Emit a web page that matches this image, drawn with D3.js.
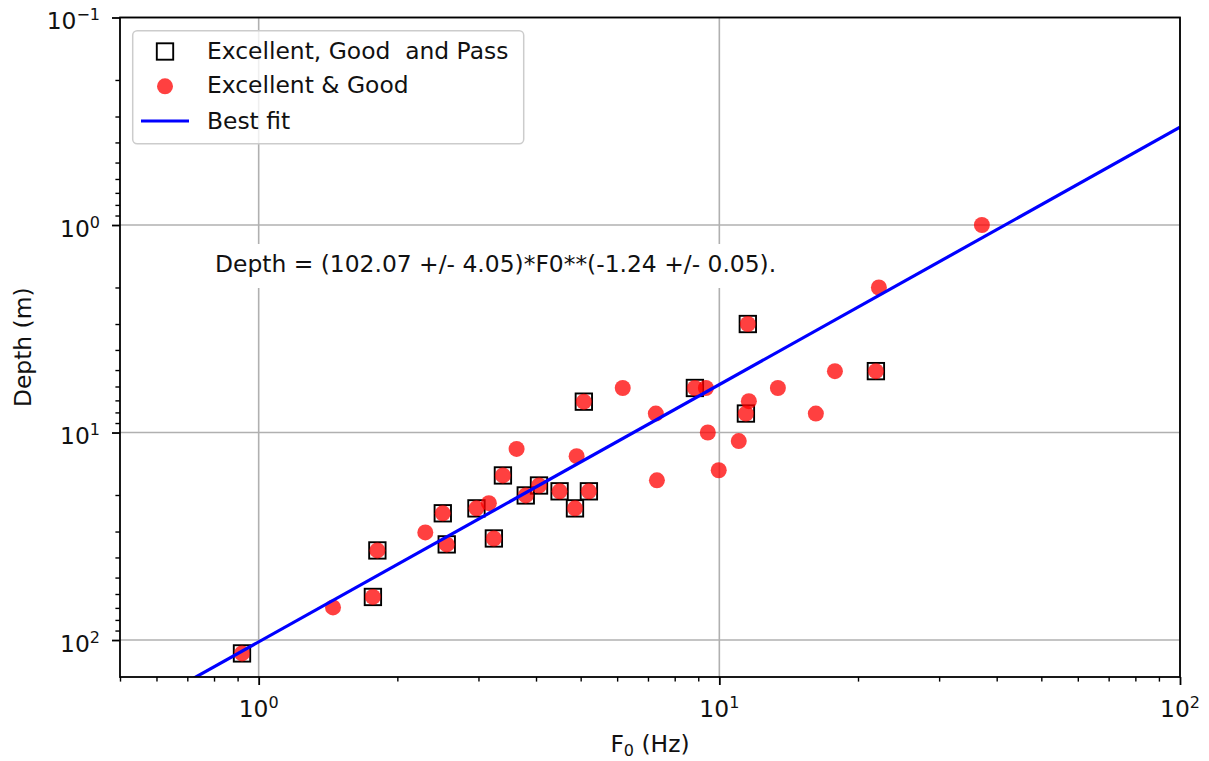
<!DOCTYPE html>
<html>
<head>
<meta charset="utf-8">
<script src="https://cdn.jsdelivr.net/npm/d3@7"></script>
<style>
  html, body { margin: 0; padding: 0; background: #fff; }
  svg { display: block; font-family: "DejaVu Sans", sans-serif; }
</style>
</head>
<body>
<svg id="chart" width="1209" height="761"></svg>
<script>
// Sites rated Excellent, Good and Pass (open squares)
const passF0    = [0.92, 1.77, 1.81, 2.51, 2.56, 2.97, 3.24, 3.39, 3.80, 4.06, 4.50, 4.86, 5.21, 5.08, 8.85, 11.42, 11.53, 21.87];
const passDepth = [116, 62, 37, 24.5, 34.6, 23.2, 32.4, 16.1, 20.1, 18.0, 19.2, 23.2, 19.2, 7.1, 6.1, 8.1, 3.0, 5.06];

// Sites rated Excellent & Good (red dots)
const goodF0    = [0.92, 1.77, 1.81, 2.51, 2.56, 2.97, 3.24, 3.39, 3.80, 4.06, 4.50, 4.86, 5.21, 5.08, 8.85, 11.42, 11.53, 21.87,
                   1.45, 2.30, 3.16, 3.63, 4.90, 6.17, 7.28, 7.32, 9.35, 9.44, 9.97, 11.02, 11.59, 13.40, 16.20, 17.82, 22.20, 37.15];
const goodDepth = [116, 62, 37, 24.5, 34.6, 23.2, 32.4, 16.1, 20.1, 18.0, 19.2, 23.2, 19.2, 7.1, 6.1, 8.1, 3.0, 5.06,
                   69.6, 30.3, 21.9, 12.0, 13.0, 6.1, 8.1, 17.0, 6.1, 10.0, 15.2, 11.0, 7.06, 6.1, 8.1, 5.06, 2.0, 1.0];

// Power-law fit: Depth = a * F0^b
const fitA = 102.07, fitAErr = 4.05;
const fitB = -1.24,  fitBErr = 0.05;

// Axis extents and tick decades
const xDomain = [0.5, 100];
const yDomain = [0.1, 150.7];
const xTickExps = [0, 1, 2];
const yTickExps = [-1, 0, 1, 2];

const legendLabels = ["Excellent, Good  and Pass", "Excellent & Good", "Best fit"];
const xLabel = ["F", "0", " (Hz)"];
const yLabel = "Depth (m)";

// ---------------------------------------------------------------
const FS = 23.4;        // base font size
const SUP = 16;         // exponent font size
const plot = { left: 120, right: 1180, top: 17.5, bottom: 677 };

const svg = d3.select("#chart");

const x = d3.scaleLog().domain(xDomain).range([plot.left, plot.right]);
const y = d3.scaleLog().domain(yDomain).range([plot.top, plot.bottom]);   // depth grows downward

const xMajor = xTickExps.map(e => Math.pow(10, e));
const yMajor = yTickExps.map(e => Math.pow(10, e));
const isPow10 = v => Math.abs(Math.log10(v) - Math.round(Math.log10(v))) < 1e-9;
const xMinor = x.ticks().filter(v => !isPow10(v));
const yMinor = y.ticks().filter(v => !isPow10(v));

// grid on major ticks
const grid = svg.append("g").attr("stroke", "#b0b0b0").attr("stroke-width", 1.6);
xMajor.forEach(v => grid.append("line")
  .attr("x1", x(v)).attr("x2", x(v)).attr("y1", plot.top).attr("y2", plot.bottom));
yMajor.forEach(v => grid.append("line")
  .attr("x1", plot.left).attr("x2", plot.right).attr("y1", y(v)).attr("y2", y(v)));

// clip region for the data layers
svg.append("clipPath").attr("id", "plotClip").append("rect")
  .attr("x", plot.left).attr("y", plot.top)
  .attr("width", plot.right - plot.left).attr("height", plot.bottom - plot.top);

const dataLayer = svg.append("g").attr("clip-path", "url(#plotClip)");

// open squares
const SQ = 16.4;
dataLayer.append("g").selectAll("rect")
  .data(d3.range(passF0.length))
  .join("rect")
  .attr("x", i => x(passF0[i]) - SQ / 2)
  .attr("y", i => y(passDepth[i]) - SQ / 2)
  .attr("width", SQ).attr("height", SQ)
  .attr("fill", "none").attr("stroke", "#000").attr("stroke-width", 1.9);

// red dots
dataLayer.append("g").selectAll("circle")
  .data(d3.range(goodF0.length))
  .join("circle")
  .attr("cx", i => x(goodF0[i]))
  .attr("cy", i => y(goodDepth[i]))
  .attr("r", 8)
  .attr("fill", "red").attr("fill-opacity", 0.75);

// best-fit line across the frequency range
const fitLine = d3.line().x(d => x(d)).y(d => y(fitA * Math.pow(d, fitB)));
dataLayer.append("path")
  .datum(xDomain)
  .attr("d", fitLine)
  .attr("fill", "none").attr("stroke", "#0000ff").attr("stroke-width", 3.2);

// fit equation with white backing box
const eqG = svg.append("g");
const eqText = eqG.append("text")
  .attr("x", 215).attr("y", 272)
  .attr("font-size", FS).attr("fill", "#111")
  .text(`Depth = (${fitA.toFixed(2)} +/- ${fitAErr.toFixed(2)})*F0**(${fitB.toFixed(2)} +/- ${fitBErr.toFixed(2)}).`);
const eb = eqText.node().getBBox();
eqG.insert("rect", "text")
  .attr("x", eb.x - 10).attr("y", 244)
  .attr("width", eb.width + 20).attr("height", 44)
  .attr("fill", "#fff");

// axes frame
svg.append("rect")
  .attr("x", plot.left).attr("y", plot.top)
  .attr("width", plot.right - plot.left).attr("height", plot.bottom - plot.top)
  .attr("fill", "none").attr("stroke", "#000").attr("stroke-width", 1.8);

function styleAxis(g, w) {
  g.select(".domain").remove();
  g.selectAll(".tick line").attr("stroke", "#000").attr("stroke-width", w);
  g.selectAll(".tick text").remove();
}

// bottom axis ticks
svg.append("g").attr("transform", `translate(0,${plot.bottom})`)
  .call(d3.axisBottom(x).tickValues(xMajor).tickSize(8).tickFormat(""))
  .call(g => styleAxis(g, 1.8));
svg.append("g").attr("transform", `translate(0,${plot.bottom})`)
  .call(d3.axisBottom(x).tickValues(xMinor).tickSize(4.6).tickFormat(""))
  .call(g => styleAxis(g, 1.4));

// left axis ticks
svg.append("g").attr("transform", `translate(${plot.left},0)`)
  .call(d3.axisLeft(y).tickValues(yMajor).tickSize(8).tickFormat(""))
  .call(g => styleAxis(g, 1.8));
svg.append("g").attr("transform", `translate(${plot.left},0)`)
  .call(d3.axisLeft(y).tickValues(yMinor).tickSize(4.6).tickFormat(""))
  .call(g => styleAxis(g, 1.4));

// power-of-ten tick labels
function powLabel(sel, exp) {
  sel.append("tspan").text("10");
  sel.append("tspan").attr("dy", -9).attr("font-size", SUP)
    .text(exp < 0 ? "\u2212" + (-exp) : String(exp));
}
xTickExps.forEach(e => {
  const t = svg.append("text")
    .attr("x", x(Math.pow(10, e))).attr("y", 717)
    .attr("text-anchor", "middle").attr("font-size", FS).attr("fill", "#111");
  powLabel(t, e);
});
yTickExps.forEach(e => {
  const t = svg.append("text")
    .attr("x", 100).attr("y", y(Math.pow(10, e)) + 11.5)
    .attr("text-anchor", "end").attr("font-size", FS).attr("fill", "#111");
  powLabel(t, e);
});

// axis titles
const xl = svg.append("text")
  .attr("x", (plot.left + plot.right) / 2).attr("y", 752)
  .attr("text-anchor", "middle").attr("font-size", FS).attr("fill", "#111");
xl.append("tspan").text(xLabel[0]);
xl.append("tspan").attr("dy", 4).attr("font-size", SUP).text(xLabel[1]);
xl.append("tspan").attr("dy", -4).text(xLabel[2]);

svg.append("text")
  .attr("transform", `translate(31,${(plot.top + plot.bottom) / 2}) rotate(-90)`)
  .attr("text-anchor", "middle").attr("font-size", FS).attr("fill", "#111")
  .text(yLabel);

// legend
const leg = svg.append("g");
leg.append("rect")
  .attr("x", 132.7).attr("y", 30.7).attr("width", 391).attr("height", 113)
  .attr("rx", 4.5).attr("ry", 4.5)
  .attr("fill", "#fff").attr("fill-opacity", 0.8)
  .attr("stroke", "#cccccc").attr("stroke-width", 1.5);

const rowY = [58.5, 93.3, 128.5];
leg.append("rect")
  .attr("x", 165 - SQ / 2).attr("y", rowY[0] - 7 - SQ / 2)
  .attr("width", SQ).attr("height", SQ)
  .attr("fill", "none").attr("stroke", "#000").attr("stroke-width", 1.9);
leg.append("circle")
  .attr("cx", 165).attr("cy", rowY[1] - 7).attr("r", 8)
  .attr("fill", "red").attr("fill-opacity", 0.75);
leg.append("line")
  .attr("x1", 141).attr("x2", 189).attr("y1", rowY[2] - 7.5).attr("y2", rowY[2] - 7.5)
  .attr("stroke", "#0000ff").attr("stroke-width", 3.2);

legendLabels.forEach((s, i) => leg.append("text")
  .attr("x", 207).attr("y", rowY[i])
  .attr("font-size", FS).attr("fill", "#111")
  .attr("xml:space", "preserve").style("white-space", "pre")
  .text(s));
</script>
</body>
</html>
